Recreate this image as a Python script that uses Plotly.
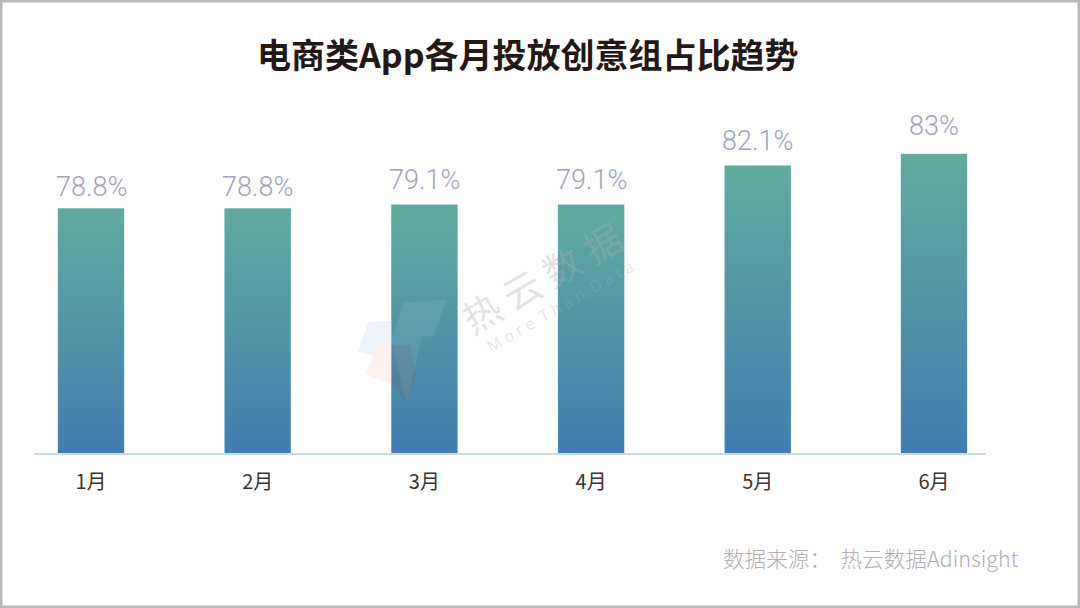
import plotly.graph_objects as go

months = ["1月", "2月", "3月", "4月", "5月", "6月"]
values = [78.8, 78.8, 79.1, 79.1, 82.1, 83.0]
labels = ["78.8%", "78.8%", "79.1%", "79.1%", "82.1%", "83%"]
slots = [1, 2, 3, 4, 5, 6.057]
label_lift = [-6, -6, -3, -3, -3, 0]

BASE = 60
BAR_W = 0.396
CJK = "Noto Sans CJK SC"
LATIN = "Roboto"
W, H = 1080, 608
L, R, T, B = 34, 986, 60, 453


def fx(x):
    return (x - L) / (R - L)


def fy(y):
    return (B - y) / (B - T)


fig = go.Figure()
fig.add_trace(go.Bar(x=slots, y=values, width=BAR_W, marker=dict(color="#5093a6", line=dict(color="#c4dde8", width=1)),
                     hoverinfo="skip", showlegend=False))
for c, v in zip(slots, values):
    l, r = c - BAR_W / 2, c + BAR_W / 2
    fig.add_trace(go.Scatter(
        x=[l, r, r, l, l], y=[BASE, BASE, v, v, BASE], mode="lines", line=dict(width=0),
        fill="toself",
        fillgradient=dict(type="vertical", colorscale=[[0, "#437db0"], [1, "#60ab9d"]]),
        hoverinfo="skip", showlegend=False))


def px(points):
    return "M" + " L".join(f"{fx(x):.4f},{fy(y):.4f}" for x, y in points) + " Z"


def zoomed(points):
    return [(340 + x / 3, 230 + y / 3) for x, y in points]


def wm(points, color):
    return dict(type="path", xref="paper", yref="paper", path=px(zoomed(points)),
                fillcolor=color, line=dict(width=0), layer="above")


shapes = [
    wm([(85, 275), (155, 272), (155, 345), (110, 348), (100, 375), (55, 365)], "rgba(205,220,240,0.34)"),
    wm([(110, 348), (155, 346), (155, 462), (78, 432)], "rgba(240,190,170,0.22)"),
    wm([(190, 218), (320, 208), (280, 318), (245, 320), (200, 525), (155, 330)], "rgba(255,255,255,0.08)"),
    wm([(155, 346), (210, 345), (228, 430), (200, 525), (175, 485), (155, 465)], "rgba(120,85,95,0.16)"),
    dict(type="rect", xref="paper", yref="paper", x0=fx(1), x1=fx(W - 1), y0=fy(H - 1), y1=fy(1),
         line=dict(color="#b9b9b9", width=3), fillcolor="rgba(0,0,0,0)", layer="above"),
]

annotations = [
    dict(x=c, y=v, text=t, yshift=10 + lift, yanchor="bottom", showarrow=False,
         font=dict(family=LATIN, size=27, color="#9ea2c0", weight=300))
    for c, v, t, lift in zip(slots, values, labels, label_lift)
]
annotations += [
    dict(xref="paper", yref="paper", x=fx(528), y=fy(53), xanchor="center", yanchor="middle",
         text="电商类App各月投放创意组占比趋势",
         showarrow=False, font=dict(family=CJK, size=34, color="#231815", weight=700)),
    dict(xref="paper", yref="paper", x=fx(1021), y=fy(557), xanchor="right", yanchor="middle", showarrow=False,
         text="数据来源：  热云数据Adinsight", font=dict(family=CJK, size=21.6, color="#b0b0b0", weight=300)),
    dict(xref="paper", yref="paper", x=fx(541), y=fy(276), xanchor="center", yanchor="middle",
         text="热 云 数 据", textangle=-30, showarrow=False,
         font=dict(family=CJK, size=38, color="rgba(175,175,175,0.34)")),
    dict(xref="paper", yref="paper", x=fx(560), y=fy(306), xanchor="center", yanchor="middle",
         text="M o r e  T h a n  D a t a", textangle=-30,
         showarrow=False, font=dict(family="Open Sans", size=16, color="rgba(175,175,175,0.32)")),
]

fig.update_layout(
    width=W, height=H, autosize=False, paper_bgcolor="white", plot_bgcolor="white",
    margin=dict(l=L, r=W - R, t=T, b=H - B), barmode="overlay", showlegend=False,
    shapes=shapes, annotations=annotations,
)
fig.update_xaxes(range=[0.658, 6.369], tickmode="array", tickvals=slots, ticktext=months,
                 showgrid=False, zeroline=False, showline=True, linecolor="#c9dbe2", linewidth=1.5,
                 ticks="outside", ticklen=10, tickcolor="rgba(0,0,0,0)",
                 tickfont=dict(family=CJK, size=20, color="#3a3431"))
fig.update_yaxes(range=[BASE, BASE + (B - T) / 13], visible=False)

fig.write_html("out.html", config=dict(displayModeBar=False), post_script="document.body.style.margin='0';")
